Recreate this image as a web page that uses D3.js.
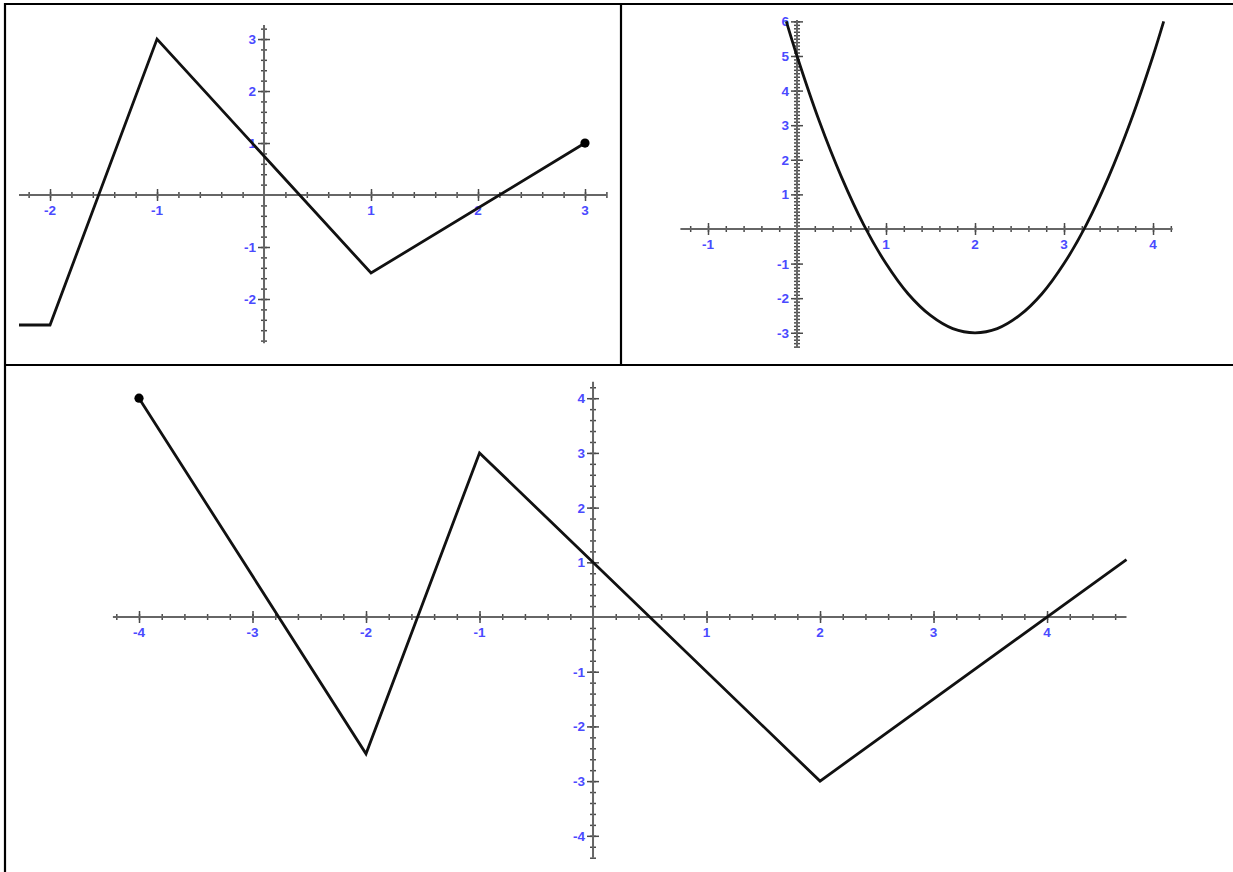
<!DOCTYPE html>
<html><head><meta charset="utf-8">
<script src="https://cdn.jsdelivr.net/npm/d3@7"></script>
<style>html,body{margin:0;padding:0;background:#fff;}svg{display:block;}</style>
</head><body>
<script>
// ---- Panel A (top-left): piecewise linear ----
const aX = [-2.29, -2, -1, 1, 3];
const aY = [-2.5, -2.5, 3, -1.5, 1];
const aXTicks = [-2, -1, 1, 2, 3];
const aYTicks = [-2, -1, 1, 2, 3];
const aDot = [3, 1];

// ---- Panel B (top-right): parabola read at points ----
const bX = [-0.12, 0, 0.25, 0.5, 0.75, 1, 1.25, 1.5, 1.75, 2, 2.25, 2.5, 2.75, 3, 3.25, 3.5, 3.75, 4, 4.12];
const bY = [6.0, 5, 3.12, 1.5, 0.12, -1, -1.88, -2.5, -2.88, -3, -2.88, -2.5, -1.88, -1, 0.12, 1.5, 3.12, 5, 6.0];
const bXTicks = [-1, 1, 2, 3, 4];
const bYTicks = [-3, -2, -1, 1, 2, 3, 4, 5, 6];

// ---- Panel C (bottom): piecewise linear ----
const cX = [-4, -2, -1, 2, 4.7];
const cY = [4, -2.5, 3, -3, 1.05];
const cXTicks = [-4, -3, -2, -1, 1, 2, 3, 4];
const cYTicks = [-4, -3, -2, -1, 1, 2, 3, 4];
const cDot = [-4, 4];

const W = 1233, H = 872;
const svg = d3.select("body").append("svg").attr("width", W).attr("height", H);

function range(a, b, step) {
  const out = [];
  const n = Math.round((b - a) / step);
  for (let i = 0; i <= n; i++) out.push(+(a + i * step).toFixed(4));
  return out;
}

function panel(cfg) {
  const x = d3.scaleLinear().domain(cfg.xDom).range(cfg.xRange);
  const y = d3.scaleLinear().domain(cfg.yDom).range(cfg.yRange);
  const g = svg.append("g");
  const axColor = "#4a4a4a";
  const x0 = x(0), y0 = y(0);

  const xMinor = range(cfg.xMinor[0], cfg.xMinor[1], cfg.xMinorStep).filter(v => Math.abs(v) > 1e-6);
  const yMinor = range(cfg.yMinor[0], cfg.yMinor[1], cfg.yMinorStep).filter(v => Math.abs(v) > 1e-6);
  const tickStyle = s => { s.select(".domain").remove(); s.selectAll("line").attr("stroke", axColor).attr("stroke-width", 1.5); };

  [d3.axisBottom, d3.axisTop].forEach(ax => {
    g.append("g").attr("transform", `translate(0,${y0})`)
      .call(ax(x).tickValues(xMinor).tickSize(3).tickFormat("")).call(tickStyle);
    g.append("g").attr("transform", `translate(0,${y0})`)
      .call(ax(x).tickValues(cfg.xTicks).tickSize(6).tickFormat("")).call(tickStyle);
  });
  [d3.axisLeft, d3.axisRight].forEach(ax => {
    g.append("g").attr("transform", `translate(${x0},0)`)
      .call(ax(y).tickValues(yMinor).tickSize(3).tickFormat("")).call(tickStyle);
    g.append("g").attr("transform", `translate(${x0},0)`)
      .call(ax(y).tickValues(cfg.yTicks).tickSize(6).tickFormat("")).call(tickStyle);
  });
  g.append("line").attr("x1", cfg.xRange[0]).attr("x2", cfg.xRange[1]).attr("y1", y0).attr("y2", y0)
    .attr("stroke", "#666").attr("stroke-width", 2);
  g.append("line").attr("x1", x0).attr("x2", x0).attr("y1", cfg.yRange[0]).attr("y2", cfg.yRange[1])
    .attr("stroke", "#666").attr("stroke-width", 2);

  const lblStyle = s => s.attr("fill", "#4a4aff").attr("font-family", "Liberation Sans, Arial, sans-serif")
    .attr("font-size", 13.5).attr("font-weight", "bold");
  g.append("g").selectAll("text").data(cfg.xTicks).join("text")
    .attr("x", d => x(d)).attr("y", y0 + 20).attr("text-anchor", "middle")
    .text(d => String(d)).call(lblStyle);
  g.append("g").selectAll("text").data(cfg.yTicks).join("text")
    .attr("x", x0 - 8).attr("y", d => y(d) + 5).attr("text-anchor", "end")
    .text(d => String(d)).call(lblStyle);

  const pts = cfg.xs.map((v, i) => [v, cfg.ys[i]]);
  const line = d3.line().x(d => x(d[0])).y(d => y(d[1])).curve(cfg.curve || d3.curveLinear);
  g.append("path").attr("d", line(pts)).attr("fill", "none").attr("stroke", "#111")
    .attr("stroke-width", 2.8).attr("stroke-linejoin", "miter");
  if (cfg.dot) {
    g.append("circle").attr("cx", x(cfg.dot[0])).attr("cy", y(cfg.dot[1])).attr("r", 4.6).attr("fill", "#000");
  }
}

panel({
  xDom: [-2.29, 3.2], xRange: [19, 606.4],
  yDom: [3.27, -2.85], yRange: [25, 343.2],
  xTicks: aXTicks, yTicks: aYTicks,
  xMinor: [-2.2, 3.2], xMinorStep: 0.2,
  yMinor: [-2.8, 3.2], yMinorStep: 0.2,
  xs: aX, ys: aY, dot: aDot
});

panel({
  xDom: [-1.31, 4.22], xRange: [680.4, 1172.6],
  yDom: [6.04, -3.44], yRange: [20, 348],
  xTicks: bXTicks, yTicks: bYTicks,
  xMinor: [-1.2, 4.2], xMinorStep: 0.2,
  yMinor: [-3.4, 6.0], yMinorStep: 0.1,
  xs: bX, ys: bY, curve: d3.curveCatmullRom
});

panel({
  xDom: [-4.23, 4.7], xRange: [112.9, 1126.5],
  yDom: [4.3, -4.4], yRange: [381.8, 857.7],
  xTicks: cXTicks, yTicks: cYTicks,
  xMinor: [-4.2, 4.6], xMinorStep: 0.2,
  yMinor: [-4.4, 4.2], yMinorStep: 0.2,
  xs: cX, ys: cY, dot: cDot
});

const frame = svg.append("g").attr("stroke", "#000").attr("stroke-width", 2.2);
frame.append("line").attr("x1", 4).attr("x2", W).attr("y1", 4).attr("y2", 4);
frame.append("line").attr("x1", 5).attr("x2", 5).attr("y1", 3).attr("y2", H);
frame.append("line").attr("x1", 621).attr("x2", 621).attr("y1", 3).attr("y2", 365);
frame.append("line").attr("x1", 4).attr("x2", W).attr("y1", 365).attr("y2", 365);
</script>
</body></html>
